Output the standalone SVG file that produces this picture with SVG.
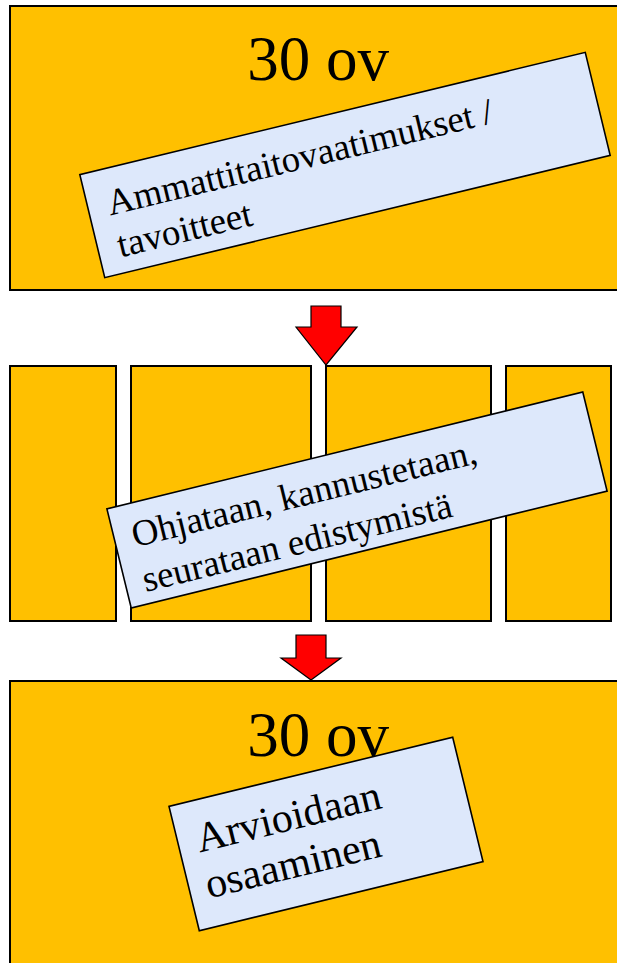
<svg xmlns="http://www.w3.org/2000/svg" width="617" height="963" viewBox="0 0 617 963">
<style>
.box{fill:#FFC000;stroke:#000;stroke-width:2}
.lbl{fill:#DDE8FB;stroke:#000;stroke-width:1.6}
text{font-family:"Liberation Serif","Times New Roman",serif;fill:#000}
.big{font-size:63px}
.arr{fill:#FF0000;stroke:#000;stroke-width:1.2;stroke-linejoin:miter}
</style>
<rect width="617" height="963" fill="#fff"/>
<g id="top">
<rect class="box" x="10" y="6" width="620" height="284"/>
<text class="big" x="318" y="80" text-anchor="middle">30 ov</text>
<g transform="translate(345,165) rotate(-13.6)">
<rect class="lbl" x="-260" y="-53" width="520" height="106"/>
<text font-family="Liberation Serif, serif" font-size="37" x="-240" y="-6">Ammattitaitovaatimukset /</text>
<text font-family="Liberation Serif, serif" font-size="37" x="-240" y="37">tavoitteet</text>
</g>
</g>
<g id="middle">
<rect class="box" x="10" y="366" width="106" height="255"/>
<rect class="box" x="131" y="366" width="180" height="255"/>
<rect class="box" x="326" y="366" width="165" height="255"/>
<rect class="box" x="506" y="366" width="105" height="255"/>
<g transform="translate(357,500) rotate(-13.8)">
<rect class="lbl" x="-245" y="-51" width="490" height="102"/>
<text font-family="Liberation Serif, serif" font-size="37" x="-227" y="-7">Ohjataan, kannustetaan,</text>
<text font-family="Liberation Serif, serif" font-size="37" x="-227" y="39">seurataan edistymistä</text>
</g>
</g>
<g id="bottom">
<rect class="box" x="10" y="681" width="620" height="290"/>
<text class="big" x="318" y="756" text-anchor="middle">30 ov</text>
<g transform="translate(326,834) rotate(-13.7)">
<rect class="lbl" x="-146" y="-64" width="292" height="128"/>
<text font-family="Liberation Serif, serif" font-size="42" x="-127" y="-12">Arvioidaan</text>
<text font-family="Liberation Serif, serif" font-size="42" x="-129" y="35">osaaminen</text>
</g>
</g>
<g id="connectors">
<polygon class="arr" points="311,306 341,306 341,327 357,327 326,365 296,327 311,327"/>
<polygon class="arr" points="296,635 326,635 326,658 341,658 311,680 281,658 296,658"/>
</g>
</svg>
